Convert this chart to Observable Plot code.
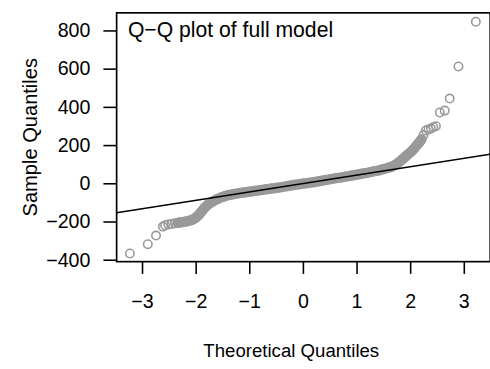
<!DOCTYPE html>
<html>
<head>
<meta charset="utf-8">
<script src="https://cdn.jsdelivr.net/npm/d3@7"></script>
<script src="https://cdn.jsdelivr.net/npm/@observablehq/plot@0.6"></script>
<style>
  html, body { margin: 0; padding: 0; background: #fff; }
  #chart { width: 490px; height: 369px; overflow: hidden; }
</style>
</head>
<body>
<div id="chart"></div>
<script>
// Theoretical quantiles (x) and sample quantiles (y)
const theoretical = [-3.236, -2.902, -2.748, -2.620, -2.578, -2.518, -2.456, -2.396, -2.34, -2.29, -2.24, -2.19, -2.14, -2.10, -2.05, -2.00, -1.95, -1.90, -1.85, -1.80, -1.75, -1.70, -1.65, -1.60, -1.55, -1.50, -1.45, -1.40, -1.30, -1.20, -1.10, -1.00, -0.90, -0.80, -0.70, -0.60, -0.50, -0.40, -0.30, -0.20, -0.10, 0.00, 0.10, 0.20, 0.30, 0.40, 0.50, 0.60, 0.70, 0.80, 0.90, 1.00, 1.10, 1.20, 1.30, 1.40, 1.50, 1.60, 1.65, 1.70, 1.75, 1.80, 1.85, 1.90, 1.95, 2.00, 2.05, 2.10, 2.15, 2.20, 2.24, 2.283, 2.332, 2.380, 2.423, 2.471, 2.544, 2.635, 2.727, 2.891, 3.215];
const sample = [-365, -316, -271, -224, -217, -213, -210, -207, -204, -202, -200, -197, -194, -191, -185, -176, -162, -145, -128, -114, -103, -94, -86, -79, -73, -68, -63, -59, -54, -49, -45, -41, -37, -33, -29, -25, -21, -17, -12, -7, -3, 1, 5, 9, 14, 19, 24, 29, 33, 38, 43, 48, 53, 58, 64, 70, 77, 85, 90, 97, 106, 117, 129, 142, 154, 166, 180, 197, 213, 232, 255, 279, 284, 289, 296, 301, 373, 383, 446, 614, 848];

// Reference line (qqline): intercept and slope
const lineIntercept = 1.5;
const lineSlope = 44;

const xTicks = [-3, -2, -1, 0, 1, 2, 3];
const yTicks = [-400, -200, 0, 200, 400, 600, 800];
const xDomain = [-3.483, 3.483];
const yDomain = [-407.4, 894.7];

const xTitle = "Theoretical Quantiles";
const yTitle = "Sample Quantiles";
const legendText = "Q\u2212Q plot of full model";

const points = theoretical.map((x, i) => ({x, y: sample[i]}));
// the dense middle run of overlapping circles
const dense = points.filter(d => d.x > -2.36 && d.x < 2.22);
const qq = xDomain.map(x => ({x, y: lineIntercept + lineSlope * x}));

const fmt = d => (d < 0 ? "\u2212" : "") + Math.abs(d);
const font = "'Liberation Sans', Arial, Helvetica, sans-serif";

const chart = Plot.plot({
  width: 500,
  height: 369,
  marginLeft: 118.5,
  marginRight: 0.3,
  marginTop: 12.6,
  marginBottom: 102.5,
  x: {domain: xDomain},
  y: {domain: yDomain},
  style: {fontFamily: font, fontSize: "20px", color: "black", background: "white", overflow: "visible"},
  marks: [
    Plot.line(dense, {x: "x", y: "y", stroke: "#999999", strokeWidth: 10.5, strokeLinecap: "round", strokeLinejoin: "round"}),
    Plot.dot(points, {x: "x", y: "y", r: 4.3, stroke: "#999999", strokeWidth: 1.6, fill: "none"}),
    Plot.line(qq, {x: "x", y: "y", stroke: "black", strokeWidth: 1.7}),
    Plot.frame({stroke: "black", strokeWidth: 1.7}),
    Plot.axisX({ticks: xTicks, tickFormat: fmt, tickSize: 13, tickPadding: 20, label: null, strokeWidth: 1.6, fontSize: 20}),
    Plot.axisY({ticks: yTicks, tickFormat: fmt, tickSize: 13, tickPadding: 13.8, label: null, strokeWidth: 1.6, fontSize: 20}),
    Plot.text([xTitle], {text: d => d, frameAnchor: "bottom", textAnchor: "middle", lineAnchor: "middle", dx: -12.4, dy: 91.4, fontSize: 19}),
    Plot.text([yTitle], {text: d => d, frameAnchor: "left", textAnchor: "middle", lineAnchor: "middle", rotate: -90, dx: -88.2, fontSize: 20.5}),
    Plot.text([legendText], {text: d => d, frameAnchor: "top-left", textAnchor: "start", lineAnchor: "top", dx: 11.5, dy: 9.6, fontSize: 21.6})
  ]
});
document.getElementById("chart").append(chart);
</script>
</body>
</html>
